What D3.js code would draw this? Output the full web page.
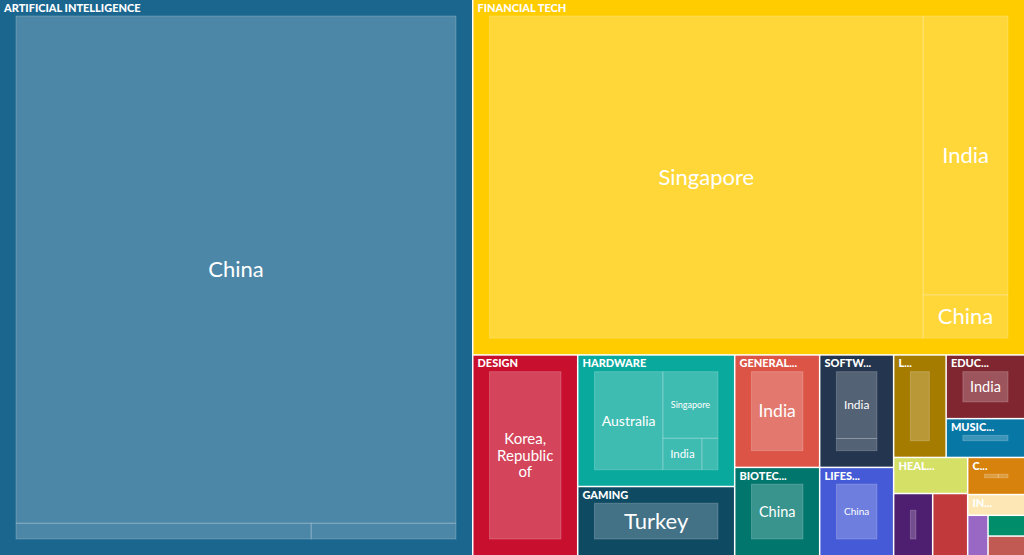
<!DOCTYPE html>
<html>
<head>
<meta charset="utf-8">
<script src="https://cdnjs.cloudflare.com/ajax/libs/d3/7.8.5/d3.min.js"></script>
<style>
body { margin: 0; overflow: hidden; background: #fff; }
svg { display: block; font-family: Lato, "Source Sans Pro", sans-serif; }
</style>
</head>
<body>
<svg width="1024" height="555"></svg>
<script>
// industries (labels as they show up in the chart)
var categories = ["ARTIFICIAL INTELLIGENCE", "FINANCIAL TECH", "DESIGN", "HARDWARE", "GAMING",
	"GENERAL...", "SOFTW...", "BIOTEC...", "LIFES...", "L...", "EDUC...", "MUSIC...", "HEAL...",
	"", "", "C...", "IN...", "", "", ""];

var colors = ["#1b668f", "#ffcc00", "#c8102e", "#09a99d", "#0f4a63",
	"#dc5446", "#24364f", "#00766c", "#455ad6", "#a67c00", "#802630", "#0777a6", "#d5e066",
	"#4e1e70", "#c1393b", "#d6820c", "#fde8b5", "#9868c4", "#008e6a", "#c15a52"];

// countries inside each industry
var countries = [
	["China", "Singapore", "India"],
	["Singapore", "India", "China"],
	["Korea, Republic of"],
	["Australia", "Singapore", "India", "China"],
	["Turkey"],
	["India"],
	["India", "China"],
	["China"],
	["China"],
	["India"],
	["India"],
	["Singapore"],
	["India"],
	["China"],
	["India"],
	["China", "India"],
	["India"],
	["Singapore"],
	["India"],
	["China"]
];

var amounts = [
	[2546, 53, 26],
	[1636, 277, 43],
	[210],
	[114, 62.3, 20.9, 8.6],
	[108.3],
	[95.2],
	[70.1, 12.8],
	[74.8],
	[65.1],
	[53.6],
	[49.9],
	[30.4],
	[26.6],
	[24.2],
	[21.7],
	[12.4, 8.7],
	[11.8],
	[8.2],
	[7.6],
	[7.2]
];

var svg = d3.select('svg'),
	width = +svg.attr('width'),
	height = +svg.attr('height');

var tree = {name: "root", children: categories.map(function(c, i) {
	return {name: c, color: colors[i], children: countries[i].map(function(n, j) {
		return {name: n, value: amounts[i][j]};
	})};
})};

var root = d3.hierarchy(tree)
	.sum(function(d) { return d.value; })
	.sort(function(a, b) { return b.value - a.value; });

d3.treemap()
	.tile(d3.treemapBinary)
	.size([width, height])
	.paddingInner(function(d) { return d.depth === 0 ? 1.5 : 0; })
	.paddingOuter(function(d) { return d.depth === 1 ? 16 : 0; })(root);

var cat = svg.selectAll('g.cat')
	.data(root.children)
	.enter().append('g')
	.attr('class', 'cat');

cat.append('rect')
	.attr('x', function(d) { return d.x0; })
	.attr('y', function(d) { return d.y0; })
	.attr('width', function(d) { return d.x1 - d.x0; })
	.attr('height', function(d) { return d.y1 - d.y0; })
	.attr('fill', function(d) { return d.data.color; });

// boxes thinner than ~3px don't show up
cat.selectAll('rect.leaf')
	.data(function(d) {
		return d.children.filter(function(c) { return c.x1 - c.x0 >= 3 && c.y1 - c.y0 >= 3; });
	})
	.enter().append('rect')
	.attr('class', 'leaf')
	.attr('x', function(d) { return d.x0; })
	.attr('y', function(d) { return d.y0; })
	.attr('width', function(d) { return d.x1 - d.x0; })
	.attr('height', function(d) { return d.y1 - d.y0; })
	.attr('fill', '#fff')
	.attr('fill-opacity', 0.22)
	.attr('stroke', '#fff')
	.attr('stroke-opacity', 0.2)
	.attr('stroke-width', 1);

// industry headers
cat.filter(function(d) { return d.data.name && d.x1 - d.x0 > 45 && d.y1 - d.y0 > 18; })
	.append('text')
	.attr('x', function(d) { return d.x0 + 4; })
	.attr('y', function(d) { return d.y0 + 11.5; })
	.attr('fill', '#fff')
	.attr('font-size', 11)
	.attr('font-weight', 900)
	.text(function(d) { return d.data.name; });

// country labels, shrunk and wrapped to fit the box
var leaves = root.leaves().filter(function(d) {
	return d.x1 - d.x0 >= 24 && d.y1 - d.y0 >= 20;
});

var lineH = 1.08;

leaves.forEach(function(d) {
	var w = d.x1 - d.x0, h = d.y1 - d.y0,
		cx = (d.x0 + d.x1) / 2, cy = (d.y0 + d.y1) / 2,
		words = d.data.name.split(' '),
		maxW = w - 14;
	var text = svg.append('text')
		.attr('fill', '#fff')
		.attr('text-anchor', 'middle');
	var fs, lines;
	for (fs = 22; fs >= 6; fs -= 0.5) {
		text.attr('font-size', fs);
		lines = [];
		var cur = '', ok = true;
		words.forEach(function(wd) {
			var t = cur ? cur + ' ' + wd : wd;
			text.text(t);
			if (text.node().getComputedTextLength() <= maxW || !cur) {
				cur = t;
			} else {
				lines.push(cur);
				cur = wd;
			}
		});
		lines.push(cur);
		lines.forEach(function(l) {
			text.text(l);
			if (text.node().getComputedTextLength() > maxW) ok = false;
		});
		if (ok && lines.length * fs * lineH <= h - 8) break;
	}
	text.text(null);
	lines.forEach(function(l, i) {
		text.append('tspan')
			.attr('x', cx)
			.attr('y', cy + (i - (lines.length - 1) / 2) * fs * lineH + fs * 0.35)
			.text(l);
	});
});
</script>
</body>
</html>
